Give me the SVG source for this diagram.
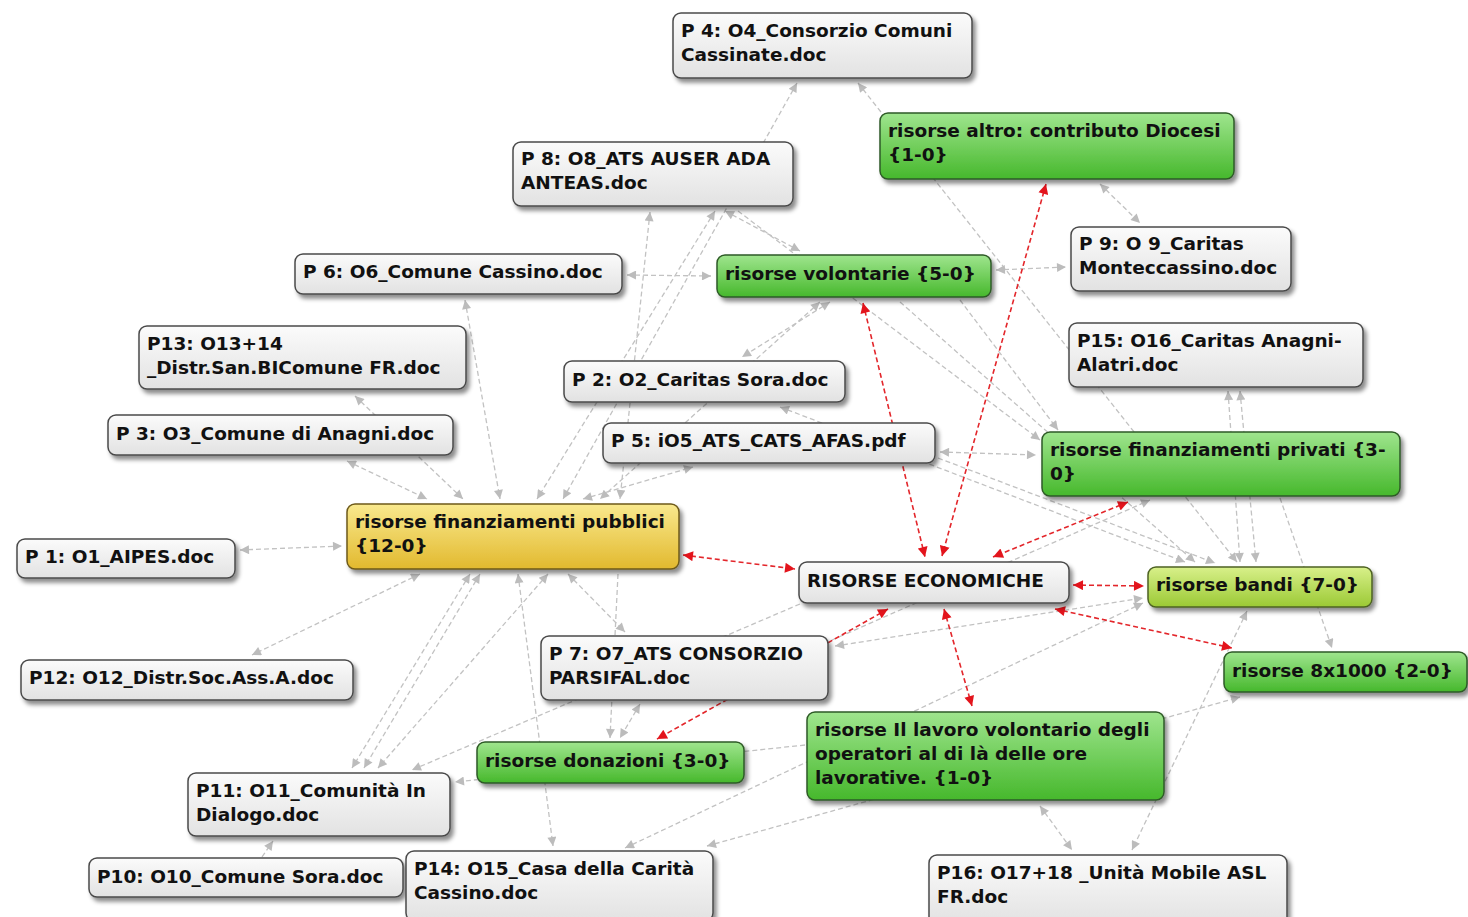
<svg xmlns="http://www.w3.org/2000/svg" width="1468" height="917" viewBox="0 0 1468 917">
<defs>
<style>
.g{stroke:#c2c2c2;stroke-width:1.3;stroke-dasharray:5 3;fill:none}
.r{stroke:#e3262b;stroke-width:1.6;stroke-dasharray:5 3;fill:none}
.g.e{marker-end:url(#ag)}
.g.s{marker-start:url(#ag)}
.r{marker-start:url(#ar);marker-end:url(#ar)}
.box{stroke:#4a4a4a;stroke-width:1.5;filter:url(#sh)}
.w{fill:url(#gw)}
.gr{fill:url(#gg);stroke:#2e5a28}
.ye{fill:url(#gy);stroke:#6e5a1a}
.yg{fill:url(#gyg);stroke:#4e6224}
text{font-family:"DejaVu Sans",sans-serif;font-weight:bold;font-size:18.5px;fill:#111}
</style>
<linearGradient id="gw" x1="0" y1="0" x2="0" y2="1"><stop offset="0" stop-color="#fbfbfb"/><stop offset="1" stop-color="#e2e2e2"/></linearGradient>
<linearGradient id="gg" x1="0" y1="0" x2="0" y2="1"><stop offset="0" stop-color="#9fe58e"/><stop offset="1" stop-color="#46b82c"/></linearGradient>
<linearGradient id="gy" x1="0" y1="0" x2="0" y2="1"><stop offset="0" stop-color="#f9e98e"/><stop offset="1" stop-color="#e2b92e"/></linearGradient>
<linearGradient id="gyg" x1="0" y1="0" x2="0" y2="1"><stop offset="0" stop-color="#d8f08a"/><stop offset="1" stop-color="#9bc934"/></linearGradient>
<filter id="sh" x="-10%" y="-20%" width="125%" height="150%"><feDropShadow dx="3" dy="4" stdDeviation="2" flood-color="#000" flood-opacity="0.45"/></filter>
<marker id="ag" viewBox="0 0 10 10" refX="10" refY="5" markerWidth="12" markerHeight="9" markerUnits="userSpaceOnUse" orient="auto-start-reverse"><path d="M0,0 L10,5 L0,10 z" fill="#bcbcbc"/></marker>
<marker id="ar" viewBox="0 0 10 10" refX="10" refY="5" markerWidth="13" markerHeight="10" markerUnits="userSpaceOnUse" orient="auto-start-reverse"><path d="M0,0 L10,5 L0,10 z" fill="#e3141c"/></marker>
</defs>
<rect width="1468" height="917" fill="#fff"/>
<g id="connectors">
<line class="g s e" x1="240" y1="550" x2="342" y2="546"/>
<line class="g s e" x1="347" y1="461" x2="427" y2="499"/>
<line class="g s e" x1="355" y1="396" x2="463" y2="499"/>
<line class="g s e" x1="465" y1="300" x2="500" y2="499"/>
<line class="g s e" x1="627" y1="275" x2="711" y2="276"/>
<line class="g s e" x1="650" y1="212" x2="620" y2="499"/>
<line class="g s e" x1="715" y1="211" x2="537" y2="499"/>
<line class="g s e" x1="725" y1="211" x2="800" y2="251"/>
<line class="g e" x1="738" y1="211" x2="1040" y2="440"/>
<line class="g s e" x1="797" y1="83" x2="563" y2="499"/>
<line class="g s e" x1="858" y1="83" x2="1237" y2="562"/>
<line class="g s e" x1="1100" y1="184" x2="1140" y2="223"/>
<line class="g s e" x1="996" y1="270" x2="1066" y2="267"/>
<line class="g s e" x1="830" y1="302" x2="742" y2="357"/>
<line class="g s e" x1="820" y1="302" x2="600" y2="499"/>
<line class="g s e" x1="583" y1="499" x2="693" y2="467"/>
<line class="g e" x1="900" y1="302" x2="1195" y2="562"/>
<line class="g s e" x1="940" y1="452" x2="1036" y2="455"/>
<line class="g e" x1="938" y1="458" x2="1215" y2="563"/>
<line class="g s e" x1="780" y1="407" x2="1185" y2="562"/>
<line class="g s e" x1="420" y1="574" x2="252" y2="655"/>
<line class="g s e" x1="470" y1="574" x2="352" y2="768"/>
<line class="g s e" x1="480" y1="574" x2="364" y2="768"/>
<line class="g s e" x1="548" y1="574" x2="378" y2="768"/>
<line class="g s e" x1="518" y1="574" x2="553" y2="846"/>
<line class="g s e" x1="568" y1="574" x2="625" y2="632"/>
<line class="g e" x1="618" y1="574" x2="610" y2="738"/>
<line class="g s e" x1="640" y1="704" x2="620" y2="738"/>
<line class="g e" x1="805" y1="745" x2="455" y2="782"/>
<line class="g e" x1="800" y1="604" x2="412" y2="770"/>
<line class="g s e" x1="625" y1="848" x2="1143" y2="603"/>
<line class="g s e" x1="707" y1="846" x2="1240" y2="697"/>
<line class="g s e" x1="835" y1="646" x2="1143" y2="598"/>
<line class="g e" x1="832" y1="640" x2="1150" y2="500"/>
<line class="g s e" x1="1040" y1="806" x2="1072" y2="850"/>
<line class="g s e" x1="1247" y1="611" x2="1132" y2="850"/>
<line class="g e" x1="1280" y1="498" x2="1332" y2="648"/>
<line class="g s e" x1="1228" y1="391" x2="1240" y2="562"/>
<line class="g s e" x1="1240" y1="391" x2="1256" y2="562"/>
<line class="g e" x1="960" y1="300" x2="1058" y2="430"/>
<line class="g e" x1="262" y1="857" x2="273" y2="841"/>
<line class="r" x1="683" y1="555" x2="795" y2="569"/>
<line class="r" x1="863" y1="303" x2="925" y2="557"/>
<line class="r" x1="1046" y1="184" x2="942" y2="556"/>
<line class="r" x1="1128" y1="502" x2="993" y2="557"/>
<line class="r" x1="1073" y1="585" x2="1144" y2="586"/>
<line class="r" x1="1055" y1="609" x2="1232" y2="648"/>
<line class="r" x1="944" y1="609" x2="972" y2="706"/>
<line class="r" x1="888" y1="609" x2="657" y2="739"/>
</g>
<g id="p4"><rect class="box w" x="673" y="13" width="299" height="65" rx="8"/><text x="681" y="37">P 4: O4_Consorzio Comuni</text><text x="681" y="61">Cassinate.doc</text></g>
<g id="altro"><rect class="box gr" x="880" y="113" width="354" height="66" rx="8"/><text x="888" y="137">risorse altro: contributo Diocesi</text><text x="888" y="161">{1-0}</text></g>
<g id="p8"><rect class="box w" x="513" y="142" width="280" height="64" rx="8"/><text x="521" y="165">P 8: O8_ATS AUSER ADA</text><text x="521" y="189">ANTEAS.doc</text></g>
<g id="p9"><rect class="box w" x="1071" y="227" width="220" height="64" rx="8"/><text x="1079" y="250">P 9: O 9_Caritas</text><text x="1079" y="274">Monteccassino.doc</text></g>
<g id="p6"><rect class="box w" x="295" y="254" width="327" height="40" rx="8"/><text x="303" y="278">P 6: O6_Comune Cassino.doc</text></g>
<g id="volontarie"><rect class="box gr" x="717" y="255" width="274" height="42" rx="8"/><text x="725" y="280">risorse volontarie {5-0}</text></g>
<g id="p13"><rect class="box w" x="139" y="326" width="327" height="63" rx="8"/><text x="147" y="350">P13: O13+14</text><text x="147" y="374">_Distr.San.BIComune FR.doc</text></g>
<g id="p15"><rect class="box w" x="1069" y="323" width="294" height="64" rx="8"/><text x="1077" y="347">P15: O16_Caritas Anagni-</text><text x="1077" y="371">Alatri.doc</text></g>
<g id="p2"><rect class="box w" x="564" y="361" width="281" height="41" rx="8"/><text x="572" y="386">P 2: O2_Caritas Sora.doc</text></g>
<g id="p3"><rect class="box w" x="108" y="415" width="345" height="40" rx="8"/><text x="116" y="440">P 3: O3_Comune di Anagni.doc</text></g>
<g id="p5"><rect class="box w" x="603" y="423" width="332" height="40" rx="8"/><text x="611" y="447">P 5: iO5_ATS_CATS_AFAS.pdf</text></g>
<g id="privati"><rect class="box gr" x="1042" y="432" width="358" height="64" rx="8"/><text x="1050" y="456">risorse finanziamenti privati {3-</text><text x="1050" y="480">0}</text></g>
<g id="pubblici"><rect class="box ye" x="347" y="504" width="332" height="65" rx="8"/><text x="355" y="528">risorse finanziamenti pubblici</text><text x="355" y="552">{12-0}</text></g>
<g id="p1"><rect class="box w" x="17" y="539" width="218" height="39" rx="8"/><text x="25" y="563">P 1: O1_AIPES.doc</text></g>
<g id="re"><rect class="box w" x="799" y="562" width="270" height="41" rx="8"/><text x="807" y="587">RISORSE ECONOMICHE</text></g>
<g id="bandi"><rect class="box yg" x="1148" y="567" width="224" height="40" rx="8"/><text x="1156" y="591">risorse bandi {7-0}</text></g>
<g id="p12"><rect class="box w" x="21" y="660" width="332" height="40" rx="8"/><text x="29" y="684">P12: O12_Distr.Soc.Ass.A.doc</text></g>
<g id="p7"><rect class="box w" x="541" y="636" width="287" height="64" rx="8"/><text x="549" y="660">P 7: O7_ATS CONSORZIO</text><text x="549" y="684">PARSIFAL.doc</text></g>
<g id="r8x1000"><rect class="box gr" x="1224" y="652" width="243" height="40" rx="8"/><text x="1232" y="677">risorse 8x1000 {2-0}</text></g>
<g id="lavoro"><rect class="box gr" x="807" y="712" width="357" height="88" rx="8"/><text x="815" y="736">risorse Il lavoro volontario degli</text><text x="815" y="760">operatori al di là delle ore</text><text x="815" y="784">lavorative. {1-0}</text></g>
<g id="donazioni"><rect class="box gr" x="477" y="742" width="267" height="41" rx="8"/><text x="485" y="767">risorse donazioni {3-0}</text></g>
<g id="p11"><rect class="box w" x="188" y="773" width="262" height="63" rx="8"/><text x="196" y="797">P11: O11_Comunità In</text><text x="196" y="821">Dialogo.doc</text></g>
<g id="p10"><rect class="box w" x="89" y="858" width="314" height="39" rx="8"/><text x="97" y="883">P10: O10_Comune Sora.doc</text></g>
<g id="p14"><rect class="box w" x="406" y="851" width="307" height="70" rx="8"/><text x="414" y="875">P14: O15_Casa della Carità</text><text x="414" y="899">Cassino.doc</text></g>
<g id="p16"><rect class="box w" x="929" y="855" width="358" height="70" rx="8"/><text x="937" y="879">P16: O17+18 _Unità Mobile ASL</text><text x="937" y="903">FR.doc</text></g>
</svg>
